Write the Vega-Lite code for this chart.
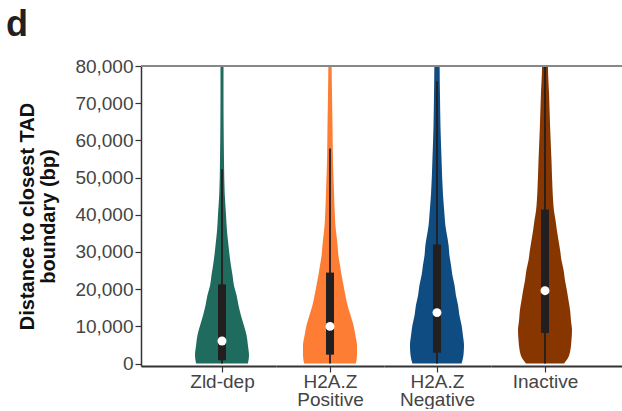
{
  "$schema": "https://vega.github.io/schema/vega-lite/v6.json",
  "autosize": {"type": "pad"},
  "padding": {"left": 5, "top": 7, "right": 0, "bottom": 0},
  "background": "white",
  "spacing": 0,
  "bounds": "flush",
  "config": {
    "view": {"stroke": null},
    "font": "Liberation Sans",
    "axis": {
      "labelFont": "Liberation Sans",
      "labelFontSize": 19,
      "labelColor": "#444444",
      "tickSize": 6,
      "tickColor": "#333333",
      "tickWidth": 1.2,
      "domainColor": "#333333",
      "grid": false,
      "zindex": 1
    },
    "axisX": {"domainWidth": 2, "labelPadding": 0, "labelLineHeight": 18, "labelBaseline": "top", "labelAngle": 0},
    "axisY": {"domainWidth": 1.5, "labelPadding": 2, "labelOverlap": false}
  },
  "title": {
    "text": "d",
    "orient": "top",
    "anchor": "start",
    "frame": "bounds",
    "dx": -12,
    "offset": -15,
    "baseline": "alphabetic",
    "fontSize": 36,
    "fontWeight": "bold",
    "color": "#231f20",
    "font": "Liberation Sans"
  },
  "resolve": {"scale": {"x": "independent"}},
  "datasets": {
    "violin": [
      {"category": "Zld-dep", "value": 0, "density": 0.96},
      {"category": "Zld-dep", "value": 2230, "density": 1.0},
      {"category": "Zld-dep", "value": 4920, "density": 0.96},
      {"category": "Zld-dep", "value": 7600, "density": 0.91},
      {"category": "Zld-dep", "value": 10290, "density": 0.81},
      {"category": "Zld-dep", "value": 12980, "density": 0.70},
      {"category": "Zld-dep", "value": 15670, "density": 0.61},
      {"category": "Zld-dep", "value": 18360, "density": 0.54},
      {"category": "Zld-dep", "value": 21050, "density": 0.44},
      {"category": "Zld-dep", "value": 23730, "density": 0.39},
      {"category": "Zld-dep", "value": 26420, "density": 0.33},
      {"category": "Zld-dep", "value": 29110, "density": 0.28},
      {"category": "Zld-dep", "value": 31800, "density": 0.24},
      {"category": "Zld-dep", "value": 34490, "density": 0.20},
      {"category": "Zld-dep", "value": 37180, "density": 0.17},
      {"category": "Zld-dep", "value": 39860, "density": 0.15},
      {"category": "Zld-dep", "value": 45700, "density": 0.10},
      {"category": "Zld-dep", "value": 54650, "density": 0.074},
      {"category": "Zld-dep", "value": 63600, "density": 0.061},
      {"category": "Zld-dep", "value": 72000, "density": 0.056},
      {"category": "Zld-dep", "value": 80000, "density": 0.056},
      {"category": "Zld-dep", "value": 84000, "density": 0.056},
      {"category": "H2A.Z Positive", "value": 0, "density": 0.96},
      {"category": "H2A.Z Positive", "value": 2230, "density": 1.0},
      {"category": "H2A.Z Positive", "value": 4920, "density": 1.0},
      {"category": "H2A.Z Positive", "value": 7600, "density": 0.94},
      {"category": "H2A.Z Positive", "value": 10290, "density": 0.87},
      {"category": "H2A.Z Positive", "value": 12980, "density": 0.76},
      {"category": "H2A.Z Positive", "value": 15670, "density": 0.65},
      {"category": "H2A.Z Positive", "value": 18360, "density": 0.57},
      {"category": "H2A.Z Positive", "value": 21050, "density": 0.50},
      {"category": "H2A.Z Positive", "value": 23730, "density": 0.43},
      {"category": "H2A.Z Positive", "value": 26420, "density": 0.37},
      {"category": "H2A.Z Positive", "value": 29110, "density": 0.31},
      {"category": "H2A.Z Positive", "value": 31800, "density": 0.28},
      {"category": "H2A.Z Positive", "value": 34490, "density": 0.24},
      {"category": "H2A.Z Positive", "value": 37180, "density": 0.20},
      {"category": "H2A.Z Positive", "value": 39860, "density": 0.18},
      {"category": "H2A.Z Positive", "value": 45700, "density": 0.15},
      {"category": "H2A.Z Positive", "value": 54650, "density": 0.11},
      {"category": "H2A.Z Positive", "value": 63600, "density": 0.093},
      {"category": "H2A.Z Positive", "value": 72600, "density": 0.074},
      {"category": "H2A.Z Positive", "value": 80000, "density": 0.061},
      {"category": "H2A.Z Positive", "value": 84000, "density": 0.061},
      {"category": "H2A.Z Negative", "value": 0, "density": 0.91},
      {"category": "H2A.Z Negative", "value": 2230, "density": 0.98},
      {"category": "H2A.Z Negative", "value": 4920, "density": 1.0},
      {"category": "H2A.Z Negative", "value": 7600, "density": 0.96},
      {"category": "H2A.Z Negative", "value": 10290, "density": 0.91},
      {"category": "H2A.Z Negative", "value": 12980, "density": 0.83},
      {"category": "H2A.Z Negative", "value": 15670, "density": 0.78},
      {"category": "H2A.Z Negative", "value": 18360, "density": 0.70},
      {"category": "H2A.Z Negative", "value": 21050, "density": 0.65},
      {"category": "H2A.Z Negative", "value": 23730, "density": 0.57},
      {"category": "H2A.Z Negative", "value": 26420, "density": 0.52},
      {"category": "H2A.Z Negative", "value": 29110, "density": 0.46},
      {"category": "H2A.Z Negative", "value": 31800, "density": 0.43},
      {"category": "H2A.Z Negative", "value": 34490, "density": 0.37},
      {"category": "H2A.Z Negative", "value": 37180, "density": 0.31},
      {"category": "H2A.Z Negative", "value": 39860, "density": 0.28},
      {"category": "H2A.Z Negative", "value": 45700, "density": 0.22},
      {"category": "H2A.Z Negative", "value": 54650, "density": 0.17},
      {"category": "H2A.Z Negative", "value": 63600, "density": 0.13},
      {"category": "H2A.Z Negative", "value": 72600, "density": 0.11},
      {"category": "H2A.Z Negative", "value": 80000, "density": 0.098},
      {"category": "H2A.Z Negative", "value": 84000, "density": 0.098},
      {"category": "Inactive", "value": 0, "density": 0.70},
      {"category": "Inactive", "value": 1790, "density": 0.87},
      {"category": "Inactive", "value": 3580, "density": 0.94},
      {"category": "Inactive", "value": 6260, "density": 0.98},
      {"category": "Inactive", "value": 8950, "density": 1.0},
      {"category": "Inactive", "value": 11640, "density": 0.96},
      {"category": "Inactive", "value": 14330, "density": 0.93},
      {"category": "Inactive", "value": 17010, "density": 0.87},
      {"category": "Inactive", "value": 19700, "density": 0.81},
      {"category": "Inactive", "value": 22390, "density": 0.74},
      {"category": "Inactive", "value": 25080, "density": 0.69},
      {"category": "Inactive", "value": 27770, "density": 0.61},
      {"category": "Inactive", "value": 30450, "density": 0.56},
      {"category": "Inactive", "value": 33140, "density": 0.50},
      {"category": "Inactive", "value": 35830, "density": 0.44},
      {"category": "Inactive", "value": 38520, "density": 0.39},
      {"category": "Inactive", "value": 41220, "density": 0.33},
      {"category": "Inactive", "value": 43900, "density": 0.30},
      {"category": "Inactive", "value": 46600, "density": 0.28},
      {"category": "Inactive", "value": 54650, "density": 0.24},
      {"category": "Inactive", "value": 63600, "density": 0.19},
      {"category": "Inactive", "value": 72600, "density": 0.15},
      {"category": "Inactive", "value": 80000, "density": 0.11},
      {"category": "Inactive", "value": 84000, "density": 0.11}
    ],
    "stats": [
      {"category": "Zld-dep", "lo": 0, "q1": 890, "median": 6080, "q3": 21300, "hi": 52230},
      {"category": "H2A.Z Positive", "lo": 0, "q1": 2400, "median": 10000, "q3": 24460, "hi": 57790},
      {"category": "H2A.Z Negative", "lo": 0, "q1": 2900, "median": 13700, "q3": 32000, "hi": 75880},
      {"category": "Inactive", "lo": 0, "q1": 8230, "median": 19600, "q3": 41400, "hi": 95000}
    ],
    "border": [{"top": 80000}]
  },
  "hconcat": [
    {
      "width": 135,
      "height": 300,
      "encoding": {
        "y": {
          "type": "quantitative",
          "scale": {"domain": [-650, 80000], "nice": false, "zero": false},
          "axis": {
            "title": ["Distance to closest TAD", "boundary (bp)"],
            "titleFont": "Liberation Sans",
            "titleFontSize": 20,
            "titleFontWeight": "bold",
            "titleColor": "#111111",
            "titleLineHeight": 21,
            "titlePadding": 16,
            "values": [0, 10000, 20000, 30000, 40000, 50000, 60000, 70000, 80000],
            "tickCount": 9,
            "labelOverlap": false,
            "format": ",d"
          }
        }
      },
      "layer": [
        {
          "data": {"name": "violin"},
          "transform": [{"filter": "datum.category == 'Zld-dep'"}],
          "mark": {"type": "area", "orient": "horizontal", "interpolate": "monotone", "clip": true, "color": "#1f6b5e"},
          "encoding": {
            "y": {"field": "value"},
            "x": {
              "field": "density", "type": "quantitative", "stack": "center",
              "scale": {"domain": [-1.0, 1.5], "nice": false, "zero": false},
              "axis": {"title": null, "values": [0.5], "labelExpr": "'Zld-dep'"}
            }
          }
        },
        {
          "data": {"name": "stats"},
          "transform": [{"filter": "datum.category == 'Zld-dep'"}],
          "mark": {"type": "rule", "color": "#231f20", "strokeWidth": 1.8, "clip": true},
          "encoding": {"x": {"datum": 0.5}, "y": {"field": "lo"}, "y2": {"field": "hi"}}
        },
        {
          "data": {"name": "stats"},
          "transform": [{"filter": "datum.category == 'Zld-dep'"}],
          "mark": {"type": "rule", "color": "#231f20", "strokeWidth": 8},
          "encoding": {"x": {"datum": 0.5}, "y": {"field": "q1"}, "y2": {"field": "q3"}}
        },
        {
          "data": {"name": "stats"},
          "transform": [{"filter": "datum.category == 'Zld-dep'"}],
          "mark": {"type": "point", "filled": true, "shape": "circle", "size": 80, "color": "white", "opacity": 1},
          "encoding": {"x": {"datum": 0.5}, "y": {"field": "median"}}
        },
        {
          "data": {"name": "border"},
          "mark": {"type": "rule", "color": "#888888", "strokeWidth": 2},
          "encoding": {"y": {"field": "top"}}
        }
      ]
    },
    {
      "width": 108,
      "height": 300,
      "layer": [
        {
          "data": {"name": "violin"},
          "transform": [{"filter": "datum.category == 'H2A.Z Positive'"}],
          "mark": {"type": "area", "orient": "horizontal", "interpolate": "monotone", "clip": true, "color": "#fd7d35"},
          "encoding": {
            "y": {"field": "value", "type": "quantitative", "scale": {"domain": [-650, 80000], "nice": false, "zero": false}, "axis": null},
            "x": {
              "field": "density", "type": "quantitative", "stack": "center",
              "scale": {"domain": [-0.5, 1.5], "nice": false, "zero": false},
              "axis": {"title": null, "values": [0.5], "labelExpr": "['H2A.Z', 'Positive']"}
            }
          }
        },
        {
          "data": {"name": "stats"},
          "transform": [{"filter": "datum.category == 'H2A.Z Positive'"}],
          "mark": {"type": "rule", "color": "#231f20", "strokeWidth": 1.8, "clip": true},
          "encoding": {"x": {"datum": 0.5}, "y": {"field": "lo", "type": "quantitative"}, "y2": {"field": "hi"}}
        },
        {
          "data": {"name": "stats"},
          "transform": [{"filter": "datum.category == 'H2A.Z Positive'"}],
          "mark": {"type": "rule", "color": "#231f20", "strokeWidth": 8},
          "encoding": {"x": {"datum": 0.5}, "y": {"field": "q1", "type": "quantitative"}, "y2": {"field": "q3"}}
        },
        {
          "data": {"name": "stats"},
          "transform": [{"filter": "datum.category == 'H2A.Z Positive'"}],
          "mark": {"type": "point", "filled": true, "shape": "circle", "size": 80, "color": "white", "opacity": 1},
          "encoding": {"x": {"datum": 0.5}, "y": {"field": "median", "type": "quantitative"}}
        },
        {
          "data": {"name": "border"},
          "mark": {"type": "rule", "color": "#888888", "strokeWidth": 2},
          "encoding": {"y": {"field": "top", "type": "quantitative"}}
        }
      ]
    },
    {
      "width": 107,
      "height": 300,
      "layer": [
        {
          "data": {"name": "violin"},
          "transform": [{"filter": "datum.category == 'H2A.Z Negative'"}],
          "mark": {"type": "area", "orient": "horizontal", "interpolate": "monotone", "clip": true, "color": "#0f4c81"},
          "encoding": {
            "y": {"field": "value", "type": "quantitative", "scale": {"domain": [-650, 80000], "nice": false, "zero": false}, "axis": null},
            "x": {
              "field": "density", "type": "quantitative", "stack": "center",
              "scale": {"domain": [-0.481, 1.5], "nice": false, "zero": false},
              "axis": {"title": null, "values": [0.5], "labelExpr": "['H2A.Z', 'Negative']"}
            }
          }
        },
        {
          "data": {"name": "stats"},
          "transform": [{"filter": "datum.category == 'H2A.Z Negative'"}],
          "mark": {"type": "rule", "color": "#231f20", "strokeWidth": 1.8, "clip": true},
          "encoding": {"x": {"datum": 0.5}, "y": {"field": "lo", "type": "quantitative"}, "y2": {"field": "hi"}}
        },
        {
          "data": {"name": "stats"},
          "transform": [{"filter": "datum.category == 'H2A.Z Negative'"}],
          "mark": {"type": "rule", "color": "#231f20", "strokeWidth": 8},
          "encoding": {"x": {"datum": 0.5}, "y": {"field": "q1", "type": "quantitative"}, "y2": {"field": "q3"}}
        },
        {
          "data": {"name": "stats"},
          "transform": [{"filter": "datum.category == 'H2A.Z Negative'"}],
          "mark": {"type": "point", "filled": true, "shape": "circle", "size": 80, "color": "white", "opacity": 1},
          "encoding": {"x": {"datum": 0.5}, "y": {"field": "median", "type": "quantitative"}}
        },
        {
          "data": {"name": "border"},
          "mark": {"type": "rule", "color": "#888888", "strokeWidth": 2},
          "encoding": {"y": {"field": "top", "type": "quantitative"}}
        }
      ]
    },
    {
      "width": 131,
      "height": 300,
      "layer": [
        {
          "data": {"name": "violin"},
          "transform": [{"filter": "datum.category == 'Inactive'"}],
          "mark": {"type": "area", "orient": "horizontal", "interpolate": "monotone", "clip": true, "color": "#873600"},
          "encoding": {
            "y": {"field": "value", "type": "quantitative", "scale": {"domain": [-650, 80000], "nice": false, "zero": false}, "axis": null},
            "x": {
              "field": "density", "type": "quantitative", "stack": "center",
              "scale": {"domain": [-0.5, 1.926], "nice": false, "zero": false},
              "axis": {"title": null, "values": [0.5], "labelExpr": "'Inactive'"}
            }
          }
        },
        {
          "data": {"name": "stats"},
          "transform": [{"filter": "datum.category == 'Inactive'"}],
          "mark": {"type": "rule", "color": "#231f20", "strokeWidth": 1.8, "clip": true},
          "encoding": {"x": {"datum": 0.5}, "y": {"field": "lo", "type": "quantitative"}, "y2": {"field": "hi"}}
        },
        {
          "data": {"name": "stats"},
          "transform": [{"filter": "datum.category == 'Inactive'"}],
          "mark": {"type": "rule", "color": "#231f20", "strokeWidth": 8},
          "encoding": {"x": {"datum": 0.5}, "y": {"field": "q1", "type": "quantitative"}, "y2": {"field": "q3"}}
        },
        {
          "data": {"name": "stats"},
          "transform": [{"filter": "datum.category == 'Inactive'"}],
          "mark": {"type": "point", "filled": true, "shape": "circle", "size": 80, "color": "white", "opacity": 1},
          "encoding": {"x": {"datum": 0.5}, "y": {"field": "median", "type": "quantitative"}}
        },
        {
          "data": {"name": "border"},
          "mark": {"type": "rule", "color": "#888888", "strokeWidth": 2},
          "encoding": {"y": {"field": "top", "type": "quantitative"}}
        }
      ]
    }
  ]
}
